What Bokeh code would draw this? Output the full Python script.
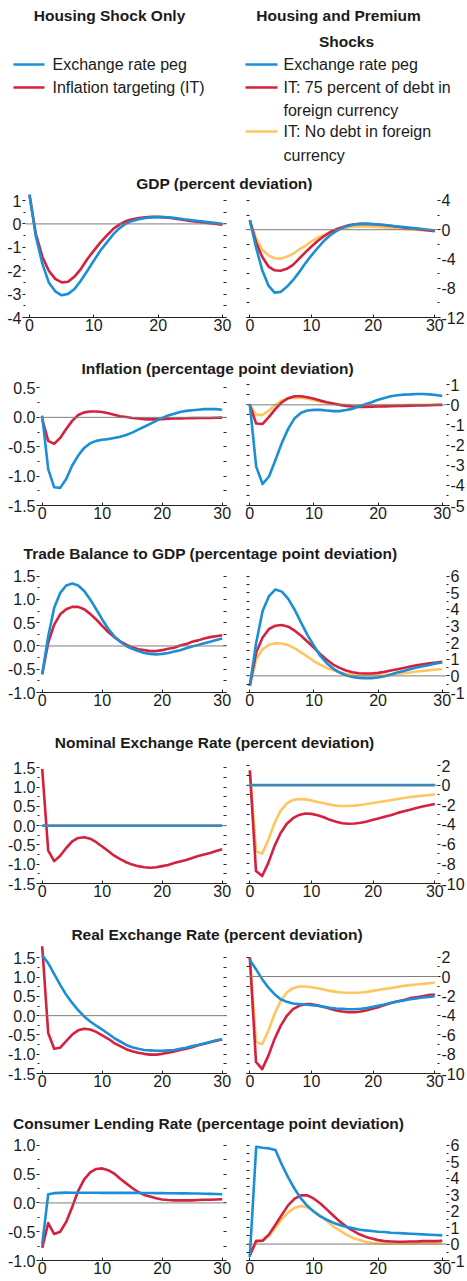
from bokeh.plotting import figure
from bokeh.layouts import column, row
from bokeh.models import Range1d, LinearAxis, FixedTicker, Span, ColumnDataSource, PrintfTickFormatter
from bokeh.core.properties import value
from bokeh.embed import file_html
from bokeh.resources import INLINE

# ---------------- data ----------------
periods = list(range(31))
x_ticks = [0, 10, 20, 30]
x_tick_labels = ["0", "10", "20", "30"]

series_names = ["Exchange rate peg", "Inflation targeting (IT)"]
series_names_right = ["Exchange rate peg", "IT: 75 percent of debt in foreign currency",
                      "IT: No debt in foreign currency"]

# GDP (percent deviation)
gdp_l_peg = [1.25, -0.55, -1.7, -2.5, -2.88, -3.05, -2.99, -2.78, -2.42, -2.0, -1.57, -1.15, -0.8, -0.45, -0.18,
             0.02, 0.13, 0.2, 0.25, 0.28, 0.29, 0.29, 0.27, 0.24, 0.2, 0.17, 0.13, 0.1, 0.07, 0.04, 0.01]
gdp_l_it = [1.25, -0.45, -1.4, -2.0, -2.35, -2.5, -2.47, -2.25, -1.92, -1.5, -1.14, -0.8, -0.5, -0.22, -0.02,
            0.12, 0.2, 0.25, 0.28, 0.3, 0.3, 0.28, 0.25, 0.21, 0.17, 0.13, 0.09, 0.06, 0.03, 0.0, -0.03]
gdp_r_peg = [1.3, -2.4, -5.5, -7.6, -8.6, -8.5, -7.8, -6.9, -5.8, -4.6, -3.5, -2.5, -1.55, -0.8, -0.2,
             0.25, 0.55, 0.72, 0.8, 0.8, 0.77, 0.71, 0.64, 0.55, 0.45, 0.36, 0.27, 0.18, 0.1, 0.0, -0.1]
gdp_r_it75 = [1.3, -1.7, -3.7, -5.0, -5.55, -5.6, -5.35, -4.8, -3.95, -3.1, -2.3, -1.55, -0.9, -0.35, 0.05,
              0.35, 0.6, 0.75, 0.8, 0.8, 0.75, 0.68, 0.6, 0.5, 0.4, 0.3, 0.2, 0.1, 0.0, -0.1, -0.2]
gdp_r_it0 = [1.3, -1.2, -2.7, -3.5, -3.9, -3.95, -3.7, -3.3, -2.7, -2.2, -1.6, -1.1, -0.7, -0.35, -0.1,
             0.15, 0.3, 0.4, 0.45, 0.45, 0.4, 0.35, 0.3, 0.25, 0.2, 0.12, 0.05, 0.0, -0.05, -0.1, -0.15]

# Inflation (percentage point deviation)
inf_l_peg = [0.03, -0.88, -1.19, -1.2, -1.05, -0.82, -0.65, -0.52, -0.44, -0.4, -0.38, -0.37, -0.35, -0.33, -0.3,
             -0.26, -0.21, -0.16, -0.11, -0.06, -0.01, 0.03, 0.06, 0.09, 0.11, 0.12, 0.13, 0.14, 0.14, 0.14, 0.13]
inf_l_it = [-0.03, -0.4, -0.45, -0.35, -0.2, -0.06, 0.04, 0.085, 0.1, 0.1, 0.09, 0.07, 0.045, 0.02, 0.005,
            -0.01, -0.02, -0.03, -0.035, -0.035, -0.03, -0.025, -0.02, -0.018, -0.015, -0.013, -0.01, -0.01,
            -0.01, -0.008, -0.005]
inf_r_peg = [0.05, -3.07, -3.93, -3.56, -2.74, -1.89, -1.18, -0.66, -0.39, -0.28, -0.25, -0.25, -0.28, -0.31, -0.31,
             -0.26, -0.2, -0.08, 0.03, 0.13, 0.25, 0.34, 0.43, 0.48, 0.51, 0.52, 0.54, 0.54, 0.52, 0.49, 0.44]
inf_r_it75 = [0.0, -0.93, -0.95, -0.6, -0.2, 0.13, 0.33, 0.43, 0.43, 0.38, 0.3, 0.21, 0.13, 0.07, 0.0,
              -0.05, -0.08, -0.1, -0.1, -0.09, -0.08, -0.075, -0.07, -0.06, -0.05, -0.04, -0.03, -0.025, -0.02,
              -0.01, 0.0]
inf_r_it0 = [0.0, -0.5, -0.5, -0.28, 0.0, 0.21, 0.33, 0.36, 0.34, 0.3, 0.23, 0.16, 0.1, 0.05, 0.02,
             0.0, -0.02, -0.02, -0.02, -0.02, -0.02, -0.015, -0.015, -0.01, -0.01, 0.0, 0.0, 0.0, 0.0, 0.01, 0.02]

# Trade Balance to GDP (percentage point deviation)
tb_l_peg = [-0.61, 0.21, 0.82, 1.14, 1.3, 1.34, 1.3, 1.18, 1.0, 0.79, 0.57, 0.37, 0.21, 0.09, 0.0,
            -0.06, -0.11, -0.15, -0.17, -0.18, -0.17, -0.15, -0.12, -0.09, -0.05, -0.01, 0.02, 0.06, 0.09, 0.13, 0.16]
tb_l_it = [-0.61, 0.07, 0.46, 0.68, 0.79, 0.84, 0.84, 0.79, 0.69, 0.57, 0.43, 0.3, 0.19, 0.1, 0.03,
           -0.03, -0.07, -0.09, -0.11, -0.11, -0.09, -0.06, -0.04, 0.01, 0.04, 0.09, 0.12, 0.16, 0.19, 0.21, 0.23]
tb_r_peg = [-0.6, 2.0, 3.9, 4.8, 5.2, 5.07, 4.63, 3.98, 3.2, 2.45, 1.81, 1.2, 0.76, 0.44, 0.2,
            0.04, -0.06, -0.12, -0.14, -0.14, -0.1, -0.02, 0.08, 0.2, 0.3, 0.4, 0.5, 0.58, 0.66, 0.74, 0.8]
tb_r_it75 = [-0.6, 1.41, 2.31, 2.82, 3.02, 3.06, 2.96, 2.72, 2.41, 2.05, 1.69, 1.31, 0.97, 0.68, 0.48,
             0.32, 0.22, 0.16, 0.14, 0.14, 0.18, 0.24, 0.32, 0.4, 0.48, 0.56, 0.64, 0.7, 0.76, 0.8, 0.85]
tb_r_it0 = [-0.6, 1.0, 1.6, 1.87, 1.97, 1.95, 1.85, 1.65, 1.41, 1.15, 0.89, 0.66, 0.48, 0.34, 0.22,
            0.12, 0.06, 0.02, 0.0, 0.0, 0.02, 0.04, 0.08, 0.12, 0.16, 0.2, 0.26, 0.3, 0.34, 0.38, 0.4]

# Nominal Exchange Rate (percent deviation)
ner_l_peg = [0.0, 0.0, 0.0, 0.0, 0.0, 0.0, 0.0, 0.0, 0.0, 0.0, 0.0, 0.0, 0.0, 0.0, 0.0, 0.0,
             0.0, 0.0, 0.0, 0.0, 0.0, 0.0, 0.0, 0.0, 0.0, 0.0, 0.0, 0.0, 0.0, 0.0, 0.0]
ner_l_it = [1.47, -0.65, -0.92, -0.78, -0.58, -0.41, -0.32, -0.3, -0.34, -0.43, -0.54, -0.66, -0.78, -0.87, -0.95,
            -1.01, -1.05, -1.08, -1.09, -1.08, -1.05, -1.02, -0.97, -0.93, -0.89, -0.84, -0.79, -0.75, -0.71,
            -0.66, -0.61]
ner_r_peg = [0.0, 0.0, 0.0, 0.0, 0.0, 0.0, 0.0, 0.0, 0.0, 0.0, 0.0, 0.0, 0.0, 0.0, 0.0, 0.0,
             0.0, 0.0, 0.0, 0.0, 0.0, 0.0, 0.0, 0.0, 0.0, 0.0, 0.0, 0.0, 0.0, 0.0, 0.0]
ner_r_it75 = [1.5, -8.74, -9.24, -7.9, -6.2, -4.87, -3.93, -3.36, -3.03, -2.89, -2.92, -3.06, -3.26, -3.53, -3.73,
              -3.87, -3.93, -3.9, -3.83, -3.7, -3.53, -3.36, -3.19, -3.03, -2.82, -2.66, -2.49, -2.32, -2.18,
              -2.05, -1.92]
ner_r_it0 = [1.5, -6.72, -6.96, -5.55, -3.87, -2.59, -1.85, -1.51, -1.41, -1.45, -1.55, -1.71, -1.85, -1.98, -2.08,
             -2.12, -2.12, -2.08, -2.02, -1.92, -1.82, -1.71, -1.61, -1.51, -1.41, -1.31, -1.21, -1.14, -1.08,
             -1.01, -0.94]

# Real Exchange Rate (percent deviation)
rer_l_peg = [1.57, 1.36, 1.08, 0.8, 0.54, 0.33, 0.14, -0.02, -0.15, -0.26, -0.36, -0.47, -0.58, -0.67, -0.76,
             -0.82, -0.86, -0.89, -0.9, -0.91, -0.91, -0.9, -0.89, -0.86, -0.83, -0.79, -0.76, -0.72, -0.68,
             -0.64, -0.61]
rer_l_it = [1.8, -0.45, -0.86, -0.83, -0.66, -0.49, -0.38, -0.34, -0.36, -0.42, -0.51, -0.6, -0.71, -0.79, -0.87,
            -0.92, -0.96, -0.99, -1.01, -1.01, -0.99, -0.96, -0.93, -0.89, -0.86, -0.82, -0.77, -0.73, -0.69,
            -0.65, -0.62]
rer_r_peg = [1.72, 0.76, -0.27, -1.13, -1.82, -2.34, -2.61, -2.78, -2.85, -2.89, -2.96, -3.02, -3.13, -3.23, -3.3,
             -3.33, -3.37, -3.37, -3.33, -3.26, -3.13, -2.99, -2.85, -2.71, -2.58, -2.47, -2.34, -2.27, -2.16,
             -2.1, -2.03]
rer_r_it75 = [1.96, -8.8, -9.55, -8.18, -6.46, -5.09, -4.05, -3.37, -3.02, -2.85, -2.85, -2.96, -3.13, -3.33, -3.5,
              -3.61, -3.68, -3.68, -3.61, -3.47, -3.3, -3.13, -2.92, -2.71, -2.54, -2.41, -2.23, -2.13, -2.03,
              -1.92, -1.86]
rer_r_it0 = [1.96, -6.74, -6.98, -5.6, -3.88, -2.51, -1.65, -1.2, -1.03, -1.03, -1.1, -1.2, -1.34, -1.48, -1.58,
             -1.65, -1.68, -1.68, -1.65, -1.58, -1.48, -1.37, -1.27, -1.17, -1.07, -0.96, -0.89, -0.82, -0.76,
             -0.69, -0.62]

# Consumer Lending Rate (percentage point deviation)
clr_l_peg = [-0.72, 0.15, 0.17, 0.175, 0.18, 0.178, 0.177, 0.177, 0.176, 0.176, 0.175, 0.175, 0.175, 0.175, 0.175,
             0.175, 0.174, 0.173, 0.172, 0.171, 0.17, 0.169, 0.168, 0.167, 0.166, 0.165, 0.163, 0.161, 0.158,
             0.155, 0.15]
clr_l_it = [-0.78, -0.35, -0.54, -0.5, -0.33, -0.07, 0.21, 0.41, 0.53, 0.59, 0.6, 0.57, 0.51, 0.42, 0.34,
            0.26, 0.19, 0.14, 0.11, 0.08, 0.06, 0.05, 0.045, 0.045, 0.045, 0.045, 0.05, 0.055, 0.055, 0.06, 0.065]
clr_r_peg = [-0.79, 5.92, 5.86, 5.82, 5.72, 4.83, 4.04, 3.35, 2.76, 2.31, 1.97, 1.68, 1.48, 1.3, 1.16,
             1.05, 0.97, 0.89, 0.83, 0.79, 0.75, 0.73, 0.69, 0.67, 0.65, 0.63, 0.61, 0.59, 0.57, 0.55, 0.53]
clr_r_it75 = [-0.69, 0.2, 0.2, 0.59, 1.18, 1.78, 2.37, 2.76, 2.96, 2.96, 2.76, 2.47, 2.11, 1.74, 1.38,
              1.08, 0.83, 0.61, 0.45, 0.34, 0.24, 0.18, 0.16, 0.14, 0.14, 0.16, 0.16, 0.18, 0.18, 0.18, 0.2]
clr_r_it0 = [-0.69, 0.1, 0.2, 0.49, 0.99, 1.52, 1.93, 2.21, 2.31, 2.23, 2.01, 1.74, 1.42, 1.08, 0.83,
             0.59, 0.39, 0.26, 0.14, 0.08, 0.04, 0.02, 0.02, 0.02, 0.02, 0.02, 0.04, 0.04, 0.04, 0.04, 0.04]

# y tick values / labels
gdp_l_ticks = [1, 0, -1, -2, -3, -4]
gdp_l_labels = ["1", "0", "-1", "-2", "-3", "-4"]
gdp_l_minor = [0.5, -0.5, -1.5, -2.5, -3.5]
gdp_r_ticks = [4, 0, -4, -8, -12]
gdp_r_labels = ["4", "0", "-4", "-8", "-12"]
gdp_r_minor = [2, -2, -6, -10]

half_ticks = [0.5, 0.0, -0.5, -1.0, -1.5]
half_labels = ["0.5", "0.0", "-0.5", "-1.0", "-1.5"]
inf_l_minor = [0.25, -0.25, -0.75, -1.25]
inf_r_ticks = [1, 0, -1, -2, -3, -4, -5]
inf_r_labels = ["1", "0", "-1", "-2", "-3", "-4", "-5"]
inf_r_minor = [0.5, -0.5, -1.5, -2.5, -3.5, -4.5]

tb_l_ticks = [1.5, 1.0, 0.5, 0.0, -0.5, -1.0]
tb_l_labels = ["1.5", "1.0", "0.5", "0.0", "-0.5", "-1.0"]
tb_l_minor = [1.25, 0.75, 0.25, -0.25, -0.75]
tb_r_ticks = [6, 5, 4, 3, 2, 1, 0, -1]
tb_r_labels = ["6", "5", "4", "3", "2", "1", "0", "-1"]
tb_r_minor = [5.5, 4.5, 3.5, 2.5, 1.5, 0.5, -0.5]

er_l_ticks = [1.5, 1.0, 0.5, 0.0, -0.5, -1.0, -1.5]
er_l_labels = ["1.5", "1.0", "0.5", "0.0", "-0.5", "-1.0", "-1.5"]
er_l_minor = [1.25, 0.75, 0.25, -0.25, -0.75, -1.25]
er_r_ticks = [2, 0, -2, -4, -6, -8, -10]
er_r_labels = ["2", "0", "-2", "-4", "-6", "-8", "-10"]
er_r_minor = [1, -1, -3, -5, -7, -9]

clr_l_ticks = [1.0, 0.5, 0.0, -0.5, -1.0]
clr_l_labels = ["1.0", "0.5", "0.0", "-0.5", "-1.0"]
clr_l_minor = [0.75, 0.25, -0.25, -0.75]
clr_r_ticks = [6, 5, 4, 3, 2, 1, 0, -1]
clr_r_labels = ["6", "5", "4", "3", "2", "1", "0", "-1"]
clr_r_minor = [5.5, 4.5, 3.5, 2.5, 1.5, 0.5, -0.5]

# ---------------- styles ----------------
FONT = "Liberation Sans"
BLUE = "#1a8fd6"
RED = "#d4213d"
YELLOW = "#ffc660"
TEXT = "#1b1b1b"
AXIS = "#222222"
ZERO = "#7d7d7d"
LW = 2.6
TOTAL_W = 467
LEFT_W = 236
RIGHT_W = 231
TICK_SIZE = "16px"
TITLE_SIZE = "15.5px"
LEGEND_SIZE = "16px"


def style_axis(ax, size=TICK_SIZE):
    ax.major_label_text_font = FONT
    ax.major_label_text_font_size = size
    ax.major_label_text_color = TEXT
    ax.major_tick_line_color = AXIS
    ax.minor_tick_line_color = AXIS
    ax.axis_line_color = None


def make_panel(width, b_left, b_right, b_top, b_bottom, frame_h, x_lim, y_lim, side,
               ticks, labels, minor, fmt, lines):
    p = figure(width=width, height=b_top + frame_h + b_bottom,
               x_range=Range1d(*x_lim), y_range=Range1d(*y_lim),
               toolbar_location=None, output_backend="svg",
               x_axis_location=None, y_axis_location=None,
               min_border_left=b_left, min_border_right=b_right,
               min_border_top=b_top, min_border_bottom=b_bottom)
    p.outline_line_color = None
    p.grid.visible = False
    p.background_fill_color = "white"
    p.border_fill_color = "white"
    p.add_layout(Span(location=0, dimension="width", line_color=ZERO, line_width=1))

    data = {"t": periods}
    for name, vals, color in lines:
        data[name] = vals
    src = ColumnDataSource(data)
    for name, vals, color in lines:
        p.line("t", name, source=src, line_color=color, line_width=LW, line_join="round")

    xa = LinearAxis(ticker=FixedTicker(ticks=x_ticks, minor_ticks=[]),
                    major_label_overrides=dict(zip(x_ticks, x_tick_labels)))
    style_axis(xa)
    xa.axis_line_color = AXIS
    xa.axis_line_width = 1
    xa.major_tick_in = 3
    xa.major_tick_out = 0
    xa.minor_tick_in = 0
    xa.minor_tick_out = 0
    xa.major_label_standoff = 1
    p.add_layout(xa, "below")

    ya = LinearAxis(ticker=FixedTicker(ticks=ticks, minor_ticks=minor),
                    formatter=PrintfTickFormatter(format=fmt),
                    major_label_overrides=dict(zip(ticks, labels)))
    style_axis(ya)
    ya.major_tick_in = 0
    ya.major_tick_out = 3
    ya.minor_tick_in = 0
    ya.minor_tick_out = 2
    ya.major_label_standoff = 1
    p.add_layout(ya, side)

    inner = LinearAxis(ticker=FixedTicker(ticks=sorted(ticks + minor), minor_ticks=[]))
    style_axis(inner, "0px")
    inner.major_label_text_color = None
    inner.major_tick_in = 3
    inner.major_tick_out = 0
    inner.minor_tick_in = 0
    inner.minor_tick_out = 0
    inner.major_label_standoff = 0
    p.add_layout(inner, "right" if side == "left" else "left")
    return p


def make_title(text, x, y, h):
    p = figure(width=TOTAL_W, height=h, x_range=Range1d(0, TOTAL_W), y_range=Range1d(h, 0),
               toolbar_location=None, output_backend="svg",
               x_axis_location=None, y_axis_location=None, min_border=0)
    p.outline_line_color = None
    p.grid.visible = False
    p.text(x=[x], y=[y], text=[text], text_font=value(FONT), text_font_style="bold",
           text_font_size=TITLE_SIZE, text_align="center", text_baseline="middle", text_color=TEXT)
    return p


# ---------------- header ----------------
HEAD_H = 168
head = figure(width=TOTAL_W, height=HEAD_H, x_range=Range1d(0, TOTAL_W), y_range=Range1d(HEAD_H, 0),
              toolbar_location=None, output_backend="svg",
              x_axis_location=None, y_axis_location=None, min_border=0)
head.outline_line_color = None
head.grid.visible = False
head.text(x=[109, 338, 346], y=[15, 15, 41],
          text=["Housing Shock Only", "Housing and Premium", "Shocks"],
          text_font=value(FONT), text_font_style="bold", text_font_size=TITLE_SIZE,
          text_align="center", text_baseline="middle", text_color=TEXT)

legend_rows = [
    (13, 44, 52, 64, series_names[0], BLUE),
    (13, 44, 52, 87, series_names[1], RED),
    (245, 277, 283, 64, series_names_right[0], BLUE),
    (245, 277, 283, 87, "IT: 75 percent of debt in", RED),
    (245, 277, 283, 131, "IT: No debt in foreign", YELLOW),
]
for x0, x1, xt, y, label, color in legend_rows:
    head.line(x=[x0, x1], y=[y, y], line_color=color, line_width=LW)
    head.text(x=[xt], y=[y], text=[label], text_font=value(FONT), text_font_size=LEGEND_SIZE,
              text_align="left", text_baseline="middle", text_color=TEXT)
head.text(x=[283, 283], y=[110, 155], text=["foreign currency", "currency"],
          text_font=value(FONT), text_font_size=LEGEND_SIZE,
          text_align="left", text_baseline="middle", text_color=TEXT)

# ---------------- rows ----------------
XL_GDP = (-0.62, 30.62)
XL = (-0.45, 30.72)
XR_N = (-0.51, 30.66)
XR_W = (-0.54, 30.44)

rows_spec = [
    dict(title="GDP (percent deviation)", tx=224, ty=14.7, th=23, top=2, fh=124, bottom=28,
         lb=25, rb=30, xl=XL_GDP, xr=XR_W, yl=(-4, 1.3), yr=(-12, 4.95),
         lt=gdp_l_ticks, ll=gdp_l_labels, lm=gdp_l_minor, lf="%d",
         rt=gdp_r_ticks, rl=gdp_r_labels, rm=gdp_r_minor,
         left=[gdp_l_it, gdp_l_peg], right=[gdp_r_it0, gdp_r_it75, gdp_r_peg]),
    dict(title="Inflation (percentage point deviation)", tx=217, ty=23.3, th=32, top=4, fh=124, bottom=28,
         lb=39, rb=20, xl=XL, xr=XR_N, yl=(-1.5, 0.61), yr=(-5, 1.16),
         lt=half_ticks, ll=half_labels, lm=inf_l_minor, lf="%.1f",
         rt=inf_r_ticks, rl=inf_r_labels, rm=inf_r_minor,
         left=[inf_l_it, inf_l_peg], right=[inf_r_it0, inf_r_it75, inf_r_peg]),
    dict(title="Trade Balance to GDP (percentage point deviation)", tx=210, ty=20.3, th=34, top=4, fh=121,
         bottom=32, lb=39, rb=20, xl=XL, xr=XR_N, yl=(-1, 1.6), yr=(-1, 6.28),
         lt=tb_l_ticks, ll=tb_l_labels, lm=tb_l_minor, lf="%.1f",
         rt=tb_r_ticks, rl=tb_r_labels, rm=tb_r_minor,
         left=[tb_l_it, tb_l_peg], right=[tb_r_it0, tb_r_it75, tb_r_peg]),
    dict(title="Nominal Exchange Rate (percent deviation)", tx=214, ty=18, th=35, top=4, fh=120, bottom=33,
         lb=39, rb=30, xl=XL, xr=XR_W, yl=(-1.5, 1.61), yr=(-10, 2.2),
         lt=er_l_ticks, ll=er_l_labels, lm=er_l_minor, lf="%.1f",
         rt=er_r_ticks, rl=er_r_labels, rm=er_r_minor,
         left=[ner_l_it, ner_l_peg], right=[ner_r_it0, ner_r_it75, ner_r_peg]),
    dict(title="Real Exchange Rate (percent deviation)", tx=216.5, ty=17.5, th=27, top=2, fh=128, bottom=30,
         lb=39, rb=30, xl=XL, xr=XR_W, yl=(-1.5, 1.82), yr=(-10, 3.2),
         lt=er_l_ticks, ll=er_l_labels, lm=er_l_minor, lf="%.1f",
         rt=er_r_ticks, rl=er_r_labels, rm=er_r_minor,
         left=[rer_l_it, rer_l_peg], right=[rer_r_it0, rer_r_it75, rer_r_peg]),
    dict(title="Consumer Lending Rate (percentage point deviation)", tx=208, ty=19.7, th=33, top=4, fh=120,
         bottom=20, lb=39, rb=20, xl=XL, xr=XR_N, yl=(-1, 1.085), yr=(-1, 6.3),
         lt=clr_l_ticks, ll=clr_l_labels, lm=clr_l_minor, lf="%.1f",
         rt=clr_r_ticks, rl=clr_r_labels, rm=clr_r_minor,
         left=[clr_l_it, clr_l_peg], right=[clr_r_it0, clr_r_it75, clr_r_peg]),
]

children = [head]
for s in rows_spec:
    children.append(make_title(s["title"], s["tx"], s["ty"], s["th"]))
    left_lines = [("it", s["left"][0], RED), ("peg", s["left"][1], BLUE)]
    right_lines = [("it0", s["right"][0], YELLOW), ("it75", s["right"][1], RED), ("peg", s["right"][2], BLUE)]
    pl = make_panel(LEFT_W, s["lb"], 10, s["top"], s["bottom"], s["fh"], s["xl"], s["yl"], "left",
                    s["lt"], s["ll"], s["lm"], s["lf"], left_lines)
    pr = make_panel(RIGHT_W, 10, s["rb"], s["top"], s["bottom"], s["fh"], s["xr"], s["yr"], "right",
                    s["rt"], s["rl"], s["rm"], "%d", right_lines)
    children.append(row(pl, pr, spacing=0))

layout = column(*children, spacing=0)
open("out.html", "w").write(file_html(layout, INLINE))
